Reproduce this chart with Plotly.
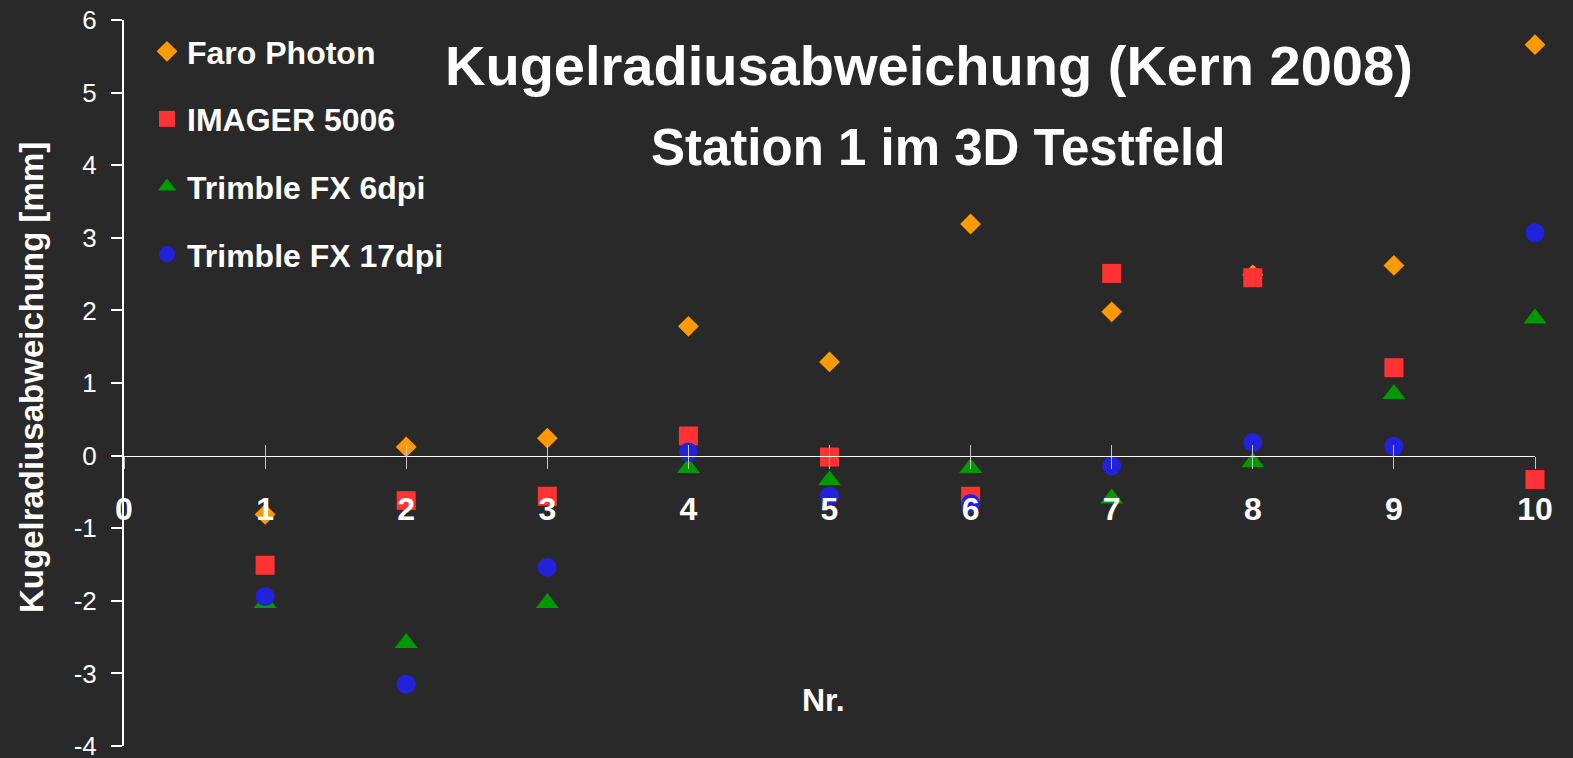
import plotly.graph_objects as go

# ---- data ----
nr = [1, 2, 3, 4, 5, 6, 7, 8, 9, 10]
faro_photon = [-0.81, 0.12, 0.24, 1.78, 1.29, 3.19, 1.98, 2.49, 2.62, 5.66]
imager_5006 = [-1.51, -0.62, -0.56, 0.27, -0.02, -0.56, 2.51, 2.45, 1.21, -0.33]
trimble_6dpi = [-2.03, -2.58, -2.03, -0.17, -0.34, -0.17, -0.59, -0.09, 0.85, 1.89]
trimble_17dpi = [-1.94, -3.15, -1.54, 0.05, -0.56, -0.66, -0.14, 0.18, 0.13, 3.07]
x_ticks = [0, 1, 2, 3, 4, 5, 6, 7, 8, 9, 10]
y_ticks = [-4, -3, -2, -1, 0, 1, 2, 3, 4, 5, 6]

W, H = 1573, 758
L, R, T, B = 124, 38, 20, 12
PW, PH = W - L - R, H - T - B
BG = "#292929"
FONT = "Liberation Sans, Arial, sans-serif"


def px_x(p):
    return (p - L) / PW


def px_y(p):
    return 1 - (p - T) / PH


series = [
    ("Faro Photon", faro_photon, "diamond", 16, "#FF9900"),
    ("IMAGER 5006", imager_5006, "square", 19, "#FF3333"),
    ("Trimble FX 6dpi", trimble_6dpi, "triangle-up", 20, "#009900"),
    ("Trimble FX 17dpi", trimble_17dpi, "circle", 19, "#2222DD"),
]

fig = go.Figure()
for i, (name, vals, sym, size, col) in enumerate(series):
    fig.add_trace(go.Scatter(
        x=nr, y=vals, name=name, mode="markers", legendgroup=f"g{i}",
        marker=dict(symbol=sym, size=size, color=col, line=dict(width=0)),
        cliponaxis=False,
    ))

# helper trace so the overlay axis (upper half of crossing ticks) is drawn
fig.add_trace(go.Scatter(x=[], y=[], xaxis="x2", yaxis="y", showlegend=False,
                         hoverinfo="skip"))

tick_col = "#c4c4c4"
fig.update_layout(
    width=W, height=H,
    margin=dict(l=L, r=R, t=T, b=B, autoexpand=False),
    paper_bgcolor=BG, plot_bgcolor=BG,
    font=dict(family=FONT, color="white"),
    showlegend=True,
    legend=dict(x=px_x(147), y=px_y(24), xanchor="left", yanchor="top",
                bgcolor="rgba(0,0,0,0)", tracegroupgap=23,
                font=dict(size=32, weight="bold", color="white", family=FONT)),
    xaxis=dict(range=[0, 10], anchor="free", position=0.4, automargin=False,
               tickvals=x_ticks, ticktext=[str(v) for v in x_ticks],
               ticks="outside", ticklen=12, tickwidth=1, tickcolor=tick_col,
               showline=True, linecolor="white", linewidth=1,
               showgrid=False, zeroline=False,
               ticklabelstandoff=13, ticklabeloverflow="allow",
               tickfont=dict(size=32, weight="bold", color="white", family=FONT)),
    xaxis2=dict(range=[0, 10], overlaying="x", anchor="free", position=0.4,
                automargin=False,
                tickvals=x_ticks[1:], ticks="inside", ticklen=11, tickwidth=1,
                tickcolor=tick_col, showticklabels=False, showline=False,
                showgrid=False, zeroline=False),
    yaxis=dict(range=[-4, 6], tickvals=y_ticks, automargin=False,
               ticktext=[str(v) for v in y_ticks],
               ticks="outside", ticklen=11, tickwidth=2, tickcolor="white",
               showline=True, linecolor="white", linewidth=2,
               showgrid=False, zeroline=False, ticklabelstandoff=9,
               ticklabeloverflow="allow",
               tickfont=dict(size=26, color="white", family=FONT)),
    annotations=[
        dict(text="Kugelradiusabweichung (Kern 2008)", xref="paper", yref="paper",
             x=px_x(929), y=px_y(66), xanchor="center", yanchor="middle",
             showarrow=False, font=dict(size=56, weight="bold", color="white", family=FONT)),
        dict(text="Station 1 im 3D Testfeld", xref="paper", yref="paper",
             x=px_x(938), y=px_y(147), xanchor="center", yanchor="middle",
             showarrow=False, font=dict(size=51, weight="bold", color="white", family=FONT)),
        dict(text="Nr.", xref="paper", yref="paper",
             x=px_x(823), y=px_y(700), xanchor="center", yanchor="middle",
             showarrow=False, font=dict(size=32, weight="bold", color="white", family=FONT)),
        dict(text="Kugelradiusabweichung [mm]", xref="paper", yref="paper",
             x=px_x(31), y=px_y(378), xanchor="center", yanchor="middle",
             textangle=-90, showarrow=False,
             font=dict(size=33, weight="bold", color="white", family=FONT)),
    ],
)

fig.write_html(
    "out.html",
    config={"displayModeBar": False},
    post_script="document.body.style.margin='0';document.body.style.background='#292929';",
)
